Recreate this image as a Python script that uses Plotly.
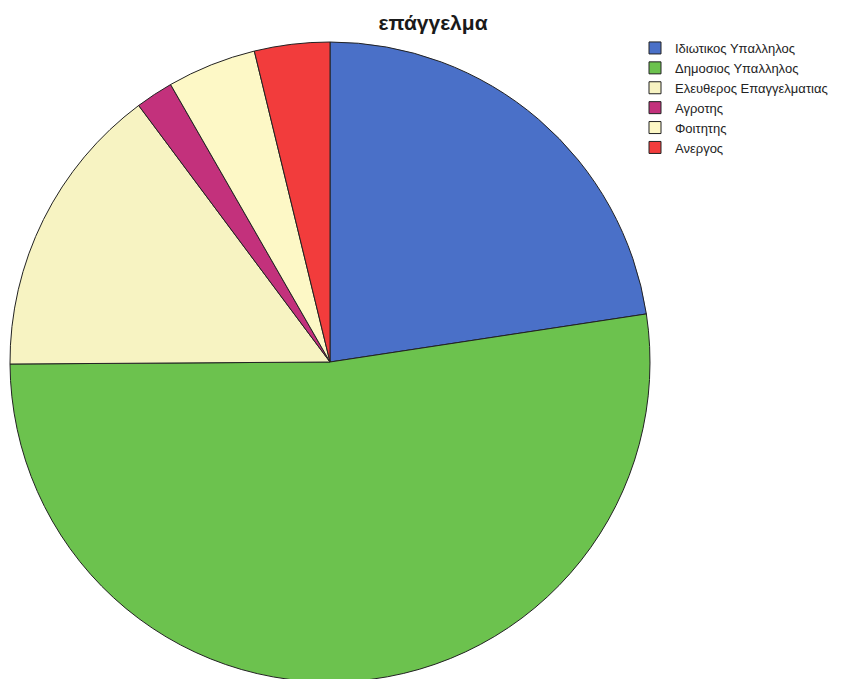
import plotly.graph_objects as go

labels = ["Ιδιωτικος Υπαλληλος", "Δημοσιος Υπαλληλος", "Ελευθερος Επαγγελματιας",
          "Αγροτης", "Φοιτητης", "Ανεργος"]
values = [22.6, 52.3, 14.9, 1.9, 4.5, 3.8]
colors = ["#4a70c8", "#6cc24e", "#f7f3c2", "#c3317c", "#fdf8c6", "#f23c3c"]

W, H = 852, 690
cx, cy, r = 330, 362, 320

fig = go.Figure(go.Pie(
    labels=labels, values=values, sort=False, direction="clockwise", rotation=0,
    marker=dict(colors=colors, line=dict(color="#222222", width=1)),
    textinfo="none", hoverinfo="label+percent",
    domain=dict(x=[(cx - r) / W, (cx + r) / W], y=[1 - (cy + r) / H, 1 - (cy - r) / H]),
))
fig.update_layout(
    width=W, height=H, margin=dict(l=0, r=0, t=0, b=0),
    paper_bgcolor="white", plot_bgcolor="white",
    title=dict(text="<b>επάγγελμα</b>", x=433 / W, xanchor="center", y=1 - 23 / H, yanchor="middle",
               font=dict(family="Liberation Sans, Arial, sans-serif", size=21, color="#1a1a1a")),
    legend=dict(x=635 / W, y=1 - 33 / H, xanchor="left", yanchor="top",
                font=dict(family="Liberation Sans, Arial, sans-serif", size=13, color="#222"),
                itemwidth=30, tracegroupgap=0, bgcolor="rgba(0,0,0,0)"),
)
fig.write_html("out.html")
